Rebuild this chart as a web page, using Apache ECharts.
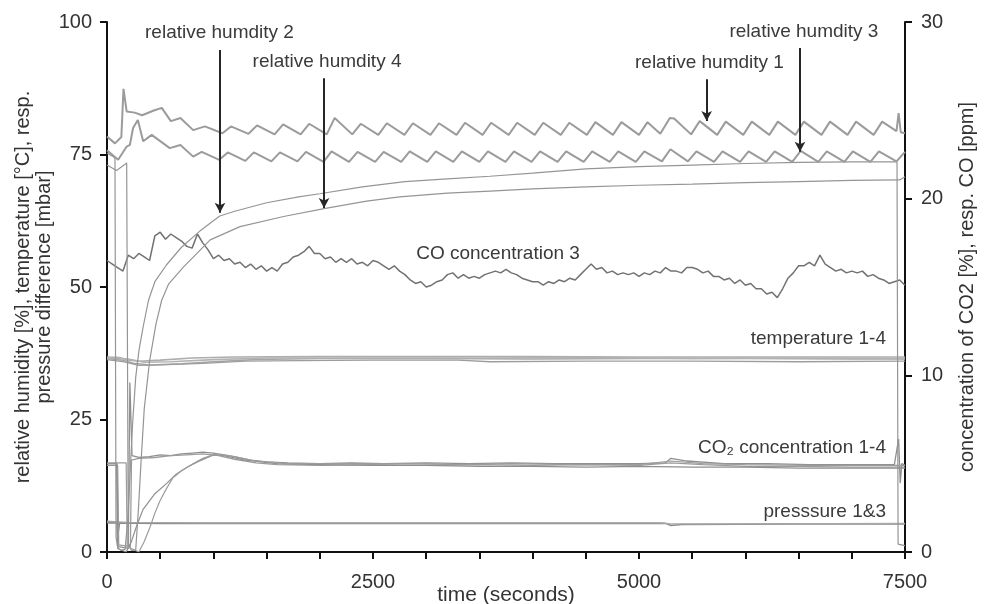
<!DOCTYPE html>
<html>
<head>
<meta charset="utf-8">
<script src="https://cdn.jsdelivr.net/npm/echarts@6/dist/echarts.min.js"></script>
<style>
  html, body { margin: 0; padding: 0; background: #fff; }
  #main { width: 986px; height: 604px; }
</style>
</head>
<body>
<div id="main"></div>
<script>
// ---- data (time in seconds, left axis in %, °C, mbar; right axis in % / ppm) ----
var rh1 = [[0,78.4],[75,77.1],[135,78.3],[155,87.4],[185,83.1],[260,82.9],[330,82.4],[440,83.3],[515,83.8],[600,81.3],[690,81.9],[810,79.6],[920,80.3],
  [1085,79.0],[1165,80.3],[1330,78.9],[1410,80.5],[1575,78.8],[1655,80.7],[1820,78.8],[1900,80.8],[2065,78.8],[2140,81.9],[2305,78.8],[2385,80.8],
  [2550,78.7],[2630,80.9],[2795,78.7],[2875,80.9],[3040,78.7],[3120,80.9],[3285,78.7],[3365,81.0],[3530,78.7],[3610,81.0],[3775,78.7],[3855,81.0],
  [4020,78.7],[4100,81.0],[4265,78.7],[4345,81.0],[4510,78.7],[4590,81.1],[4755,78.7],[4835,81.1],[5000,78.7],[5080,81.1],[5200,78.9],[5290,81.9],
  [5330,81.8],[5490,78.8],[5570,81.3],[5735,78.7],[5815,81.2],[5980,78.7],[6060,81.2],[6225,78.7],[6305,81.2],[6470,78.7],[6550,81.2],[6715,78.7],
  [6795,81.2],[6960,78.7],[7040,81.2],[7205,78.7],[7285,81.2],[7420,79.4],[7440,82.8],[7460,79.2],[7500,79.0]];

var rh3 = [[0,75.8],[105,74.0],[185,76.5],[215,76.8],[245,80.0],[290,81.5],[340,77.5],[420,78.7],[590,76.2],[690,76.8],[810,74.6],[890,75.5],
  [1055,74.0],[1135,75.4],[1300,73.8],[1380,75.4],[1545,73.7],[1625,75.4],[1790,73.7],[1870,75.5],[2035,73.6],[2110,75.6],[2275,73.6],[2355,75.5],
  [2520,73.6],[2600,75.5],[2765,73.6],[2845,75.6],[3010,73.6],[3090,75.6],[3255,73.6],[3335,75.6],[3500,73.6],[3580,75.6],[3745,73.6],[3825,75.6],
  [3990,73.6],[4070,75.6],[4235,73.6],[4315,75.6],[4480,73.6],[4560,75.6],[4725,73.6],[4805,75.6],[4970,73.6],[5050,75.6],[5215,73.7],[5295,76.0],
  [5460,73.7],[5540,75.6],[5705,73.6],[5785,75.6],[5950,73.6],[6030,75.6],[6195,73.6],[6275,75.6],[6440,73.6],[6520,75.7],[6685,73.6],[6765,75.6],
  [6930,73.6],[7010,75.6],[7175,73.6],[7255,75.6],[7420,73.7],[7500,75.5]];

var rh2 = [[0,75.3],[60,74.6],[75,74.2],[85,2.8],[100,0.8],[130,0.3],[170,0.5],[195,6],[215,14],[240,24],[270,33],[300,38],[340,42.5],[390,47.5],
  [450,51],[560,54.2],[700,57.5],[870,60.5],[1000,62.5],[1060,63.4],[1200,64.3],[1500,65.9],[1800,67.0],[2000,67.6],[2400,68.9],[2800,69.9],
  [3200,70.4],[3600,70.9],[4000,71.5],[4500,72.3],[5000,72.7],[5500,73.0],[6000,73.3],[6500,73.5],[7000,73.6],[7425,73.6],[7435,1.5],[7500,1.2]];

var rh4 = [[0,73.0],[90,72.0],[160,73.0],[185,73.4],[200,1.5],[230,0.3],[270,0.4],[295,8],[320,17],[350,27],[400,36],[460,43],[514,47.5],
  [580,50.6],[720,53.8],[970,58.9],[1250,61.4],[1660,63.3],[2040,64.8],[2440,66.2],[2750,67.0],[3200,67.7],[3600,68.1],[4000,68.5],[4500,68.9],
  [5000,69.2],[5500,69.4],[6000,69.7],[6500,69.9],[7000,70.1],[7450,70.2],[7500,70.8]];

var temp1 = [[0,36.8],[120,36.7],[180,36.3],[300,36.0],[500,36.2],[800,36.6],[1200,36.8],[2000,36.9],[3000,36.9],[4000,36.9],[5000,36.8],[6000,36.8],[7000,36.8],[7500,36.8]];
var temp2 = [[0,36.5],[150,36.2],[250,35.6],[400,35.3],[700,35.5],[1000,35.9],[1400,36.3],[2000,36.5],[3000,36.5],[4000,36.4],[5000,36.5],[6000,36.5],[7000,36.4],[7500,36.4]];
var temp3 = [[0,36.3],[150,35.9],[300,35.2],[500,35.3],[900,35.6],[1300,36.0],[1800,36.1],[2500,36.2],[3300,36.2],[3600,35.9],[4500,36.0],[5500,36.0],[6500,35.9],[7500,36.0]];
var temp4 = [[0,36.6],[200,36.4],[350,35.8],[600,35.9],[1000,36.3],[1500,36.6],[2500,36.6],[3500,36.6],[4500,36.7],[5500,36.5],[6500,36.6],[7500,36.5]];

var press1 = [[0,5.5],[95,5.5],[100,2.9],[110,2.8],[118,5.5],[500,5.4],[1500,5.4],[3000,5.4],[4500,5.4],[5250,5.4],[5300,5.0],[5400,5.2],[6500,5.3],[7500,5.3]];
var press3 = [[0,5.8],[100,5.7],[200,5.6],[1000,5.5],[3000,5.5],[5200,5.5],[5300,5.3],[6000,5.3],[7500,5.4]];

var co2a = [[0,5.0],[95,5.0],[105,0.3],[200,0.2],[215,9.6],[235,5.45],[300,5.35],[400,5.4],[500,5.5],[600,5.45],[700,5.55],[800,5.6],[900,5.65],
  [1000,5.6],[1100,5.5],[1200,5.4],[1350,5.2],[1500,5.1],[1700,5.05],[2000,5.0],[2300,5.05],[2600,5.0],[3000,5.05],[3400,5.0],[3800,5.05],
  [4200,5.0],[4600,5.0],[5000,5.0],[5250,5.05],[5300,5.3],[5450,5.15],[5800,5.0],[6200,5.0],[6600,4.95],[7000,4.95],[7400,4.95],[7440,6.4],
  [7455,3.9],[7470,5.0],[7500,4.9]];
var co2b = [[0,4.9],[100,4.9],[110,0.4],[220,0.3],[230,5.2],[300,5.3],[450,5.35],[600,5.45],[750,5.5],[900,5.55],[1050,5.45],[1200,5.25],
  [1400,5.05],[1600,4.95],[2000,4.9],[2500,4.95],[3000,4.9],[3500,4.95],[4000,4.9],[4500,4.95],[5000,4.9],[5300,5.05],[5600,4.95],[6000,4.85],
  [6500,4.85],[7000,4.8],[7500,4.8]];
var co2c = [[0,5.0],[90,5.0],[100,0.2],[180,0],[230,0.6],[280,1.5],[338,2.4],[450,3.3],[564,3.9],[650,4.4],[752,4.8],[850,5.1],[1000,5.5],
  [1100,5.45],[1300,5.2],[1600,5.0],[2000,4.95],[2500,4.9],[3000,4.9],[3500,4.85],[4000,4.85],[4500,4.8],[5000,4.85],[5500,4.8],[6000,4.8],
  [6500,4.75],[7000,4.75],[7500,4.75]];
var co2d = [[0,5.05],[180,5.05],[190,0.3],[300,0],[350,0.6],[404,1.4],[450,2.2],[498,2.9],[560,3.6],[620,4.2],[700,4.6],[808,5.0],[900,5.3],
  [1000,5.5],[1150,5.45],[1400,5.15],[1700,5.0],[2200,5.0],[2800,5.0],[3300,4.95],[3800,5.0],[4400,4.95],[5000,4.95],[5300,5.15],[5600,5.0],
  [6000,4.95],[6600,4.9],[7200,4.9],[7500,4.9]];

// CO concentration 3 in ppm, sampled every 50 s from 0 to 7500
var coStep = 50;
var coPpm = [16.5,16.3,16.1,15.9,16.8,16.6,16.9,16.7,16.5,17.9,18.1,17.7,18.0,17.8,17.6,17.3,17.2,18.0,17.5,17.1,
  16.6,16.8,16.5,16.6,16.3,16.4,16.1,16.3,16.0,16.2,15.9,16.1,15.9,16.3,16.4,16.7,16.8,17.0,17.3,16.9,
  16.9,16.6,16.7,16.4,16.6,16.4,16.6,16.3,16.4,16.2,16.5,16.4,16.2,16.0,16.2,15.9,15.7,15.4,15.2,15.3,
  15.0,15.1,15.3,15.4,15.7,15.8,15.5,15.7,15.5,15.6,15.5,15.7,15.8,15.9,15.8,16.0,15.8,15.7,15.5,15.4,
  15.3,15.3,15.1,15.3,15.2,15.4,15.3,15.5,15.4,15.7,16.0,16.3,16.0,16.1,15.8,15.9,15.7,15.8,15.7,15.8,
  15.6,15.8,15.7,15.9,15.8,16.1,15.9,15.9,15.8,16.1,16.1,16.0,15.8,15.9,15.6,15.6,15.4,15.5,15.2,15.4,
  15.1,15.2,14.9,14.9,14.6,14.7,14.4,14.9,15.5,15.8,16.2,16.2,16.4,16.2,16.8,16.3,16.1,15.9,16.0,15.8,
  15.9,15.8,15.9,15.6,15.7,15.5,15.4,15.2,15.3,15.4,15.1];

// arrows: [time, start value, tip value] on the left axis
var arrows = [[1062,94.7,64.0],[2040,89.4,64.9],[5636,89.2,81.3],[6513,95.1,75.5]];
// labels: [text, time, value, align]
var notes = [
  ['relative humdity 2',1057,97.9,'center'],
  ['relative humdity 4',2068,92.5,'center'],
  ['relative humdity 3',6550,98.1,'center'],
  ['relative humdity 1',5662,92.3,'center'],
  ['CO concentration 3',3675,56.2,'center'],
  ['temperature 1-4',7321,40.2,'right'],
  ['CO\u2082 concentration 1-4',7321,19.6,'right'],
  ['presssure 1&3',7321,7.5,'right']
];

var FONT = '"Liberation Sans", Arial, sans-serif';
var chart = echarts.init(document.getElementById('main'));

function line(data, color, width, yIdx, extra) {
  var s = {
    type: 'line', data: data, yAxisIndex: yIdx || 0, showSymbol: false, symbol: 'none',
    silent: true, lineStyle: { color: color, width: width }, z: 2
  };
  if (extra) for (var k in extra) s[k] = extra[k];
  return s;
}

var coData = coPpm.map(function (v, i) { return [i * coStep, v]; });

var arrowLines = arrows.map(function (a) {
  return [{ coord: [a[0], a[1]] }, { coord: [a[0], a[2]] }];
});

var series = [
  line(temp1, '#adadad', 1.6), line(temp2, '#a5a5a5', 1.5), line(temp3, '#9d9d9d', 1.3), line(temp4, '#b3b3b3', 1.6),
  line(press1, '#8c8c8c', 1.6), line(press3, '#a8a8a8', 1.3),
  line(co2a, '#8f8f8f', 1.3, 1), line(co2b, '#9c9c9c', 1.3, 1), line(co2c, '#8f8f8f', 1.2, 1), line(co2d, '#9c9c9c', 1.2, 1),
  line(coData, '#727272', 1.5, 1),
  line(rh2, '#959595', 1.2), line(rh4, '#959595', 1.2),
  line(rh3, '#9b9b9b', 2),
  line(rh1, '#9b9b9b', 2, 0, {
    markLine: {
      silent: true, animation: false,
      symbol: ['none', 'arrow'], symbolSize: [8, 10],
      lineStyle: { color: '#262626', width: 2, type: 'solid' },
      label: { show: false },
      data: arrowLines
    }
  })
];

var axisLine = { show: true, onZero: false, lineStyle: { color: '#111', width: 2 } };
var axisTick = { show: true, inside: false, length: 7, lineStyle: { color: '#111', width: 2 } };
var tickFont = { fontFamily: FONT, fontSize: 20, color: '#333' };

chart.setOption({
  animation: false,
  backgroundColor: '#fff',
  grid: { left: 107, right: 81, top: 22, bottom: 52, containLabel: false, outerBoundsMode: 'none' },
  xAxis: {
    type: 'value', min: 0, max: 7500, interval: 2500,
    name: 'time (seconds)', nameLocation: 'middle', nameGap: 33, nameMoveOverlap: false,
    nameTextStyle: { fontFamily: FONT, fontSize: 21, color: '#333' },
    axisLine: axisLine, axisTick: axisTick,
    minorTick: { show: true, splitNumber: 5, length: 7, lineStyle: { color: '#111', width: 2 } },
    splitLine: { show: false },
    axisLabel: Object.assign({ margin: 20, formatter: function (v) { return String(v); } }, tickFont)
  },
  yAxis: [{
    type: 'value', min: 0, max: 100, interval: 25, position: 'left',
    name: 'relative humidity [%], temperature [°C], resp.\npressure difference [mbar]',
    nameLocation: 'middle', nameGap: 52, nameMoveOverlap: false,
    nameTextStyle: { fontFamily: FONT, fontSize: 20, color: '#333', lineHeight: 21, align: 'center' },
    axisLine: axisLine, axisTick: axisTick, splitLine: { show: false },
    axisLabel: Object.assign({ margin: 15 }, tickFont)
  }, {
    type: 'value', min: 0, max: 30, interval: 10, position: 'right',
    name: 'concentration of CO2 [%], resp. CO [ppm]',
    nameLocation: 'middle', nameGap: 52, nameMoveOverlap: false,
    nameTextStyle: { fontFamily: FONT, fontSize: 20, color: '#333' },
    axisLine: axisLine, axisTick: axisTick, splitLine: { show: false },
    axisLabel: Object.assign({ margin: 16 }, tickFont)
  }],
  series: series
});

// annotation texts, placed in data coordinates
var texts = notes.map(function (n) {
  var p = chart.convertToPixel({ xAxisIndex: 0, yAxisIndex: 0 }, [n[1], n[2]]);
  return {
    type: 'text', x: p[0], y: p[1], silent: true, z: 10,
    style: {
      text: n[0], fill: '#3a3a3a', fontFamily: FONT, fontSize: 19,
      align: n[3], verticalAlign: 'middle'
    }
  };
});
chart.setOption({ graphic: texts });
</script>
</body>
</html>
